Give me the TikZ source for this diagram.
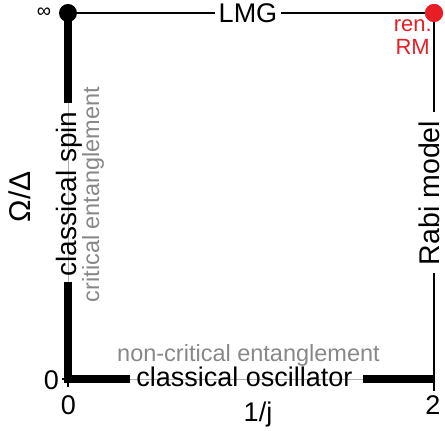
\documentclass[tikz,border=0pt]{standalone}
\usepackage{fontspec}
\setmainfont{Liberation Sans}
\definecolor{rmred}{RGB}{232,30,38}
\definecolor{faint}{RGB}{136,136,136}
\definecolor{guide}{RGB}{175,175,175}
\tikzset{
  heavy/.style={line width=8pt, line cap=butt, line join=miter},
  slim/.style={line width=1.6pt},
  guideline/.style={line width=0.8pt, draw=guide},
  tickmark/.style={line width=1.2pt},
  lbl/.style={inner sep=0pt, font=\fontsize{27}{30}\selectfont},
  note/.style={inner sep=0pt, text=faint, font=\fontsize{23.5}{26}\selectfont},
  dot/.style={circle, inner sep=0pt, minimum size=18pt},
}
\begin{document}
\begin{tikzpicture}[x=1pt,y=1pt]
\useasboundingbox (0,0) rectangle (445,431);
% frame corners
\coordinate (bl) at (68,52);
\coordinate (br) at (434,52);
% break points of the frame lines around the labels
\coordinate (lmgL) at (215,418);
\coordinate (lmgR) at (281,418);
\coordinate (rabiT) at (434,319);
\coordinate (rabiB) at (434,158);
\coordinate (spinT) at (68,328);
\coordinate (spinB) at (68,149);
\coordinate (oscL) at (130,52);
\coordinate (oscR) at (363,52);
\coordinate (tickL) at (62,52);
\coordinate (tickB) at (68,44);
\coordinate (tickBR) at (434,40);

% thin guide under the heavy edges
\draw[guideline] (68,418) -- (bl) -- (br);

% labels
\node[lbl, anchor=base] (lmg) at (248,408.5) {LMG};
\node[lbl, anchor=base, rotate=90, font=\fontsize{28}{30}\selectfont] (spin) at (76,237) {classical spin};
\node[lbl, anchor=base, rotate=90, font=\fontsize{28.5}{31}\selectfont] (rabi) at (439,238) {Rabi model};
\node[lbl, anchor=base] (osc) at (244.5,44) {classical oscillator};
\node[note, anchor=base, rotate=90] (crit) at (99,236.5) {critical entanglement};
\node[note, anchor=base] (noncrit) at (248.5,69) {non-critical entanglement};

% corner points
\node[dot, fill=black] (tl) at (68,418) {};
\node[dot, fill=rmred] (tr) at (434,418) {};

% edges
\draw[heavy] (tl.center) -- (spinT);
\draw[heavy] (spinB) -- (bl) -- (oscL);
\draw[heavy] (oscR) -- (br);
\draw[slim] (tl.east) -- (lmgL);
\draw[slim] (lmgR) -- (tr.center);
\draw[slim] (tr.center) -- (rabiT);
\draw[slim] (rabiB) -- (tickBR);
\draw[tickmark] (bl) -- (tickL);
\draw[tickmark] (bl) -- (tickB);
\node[dot, fill=rmred] at (tr) {};

% red corner label
\node[inner sep=0pt, text=rmred, anchor=base east, font=\fontsize{22}{24}\selectfont] (ren) at (432,399) {ren.};
\node[inner sep=0pt, text=rmred, anchor=base east, font=\fontsize{22}{24}\selectfont] (rm) at (430,376) {RM};

% axis values and titles
\node[inner sep=0pt, font=\fontsize{20}{22}\selectfont] (inf) at (44,418) {∞};
\node[lbl, anchor=base east] (zeroy) at (59,41) {0};
\node[lbl, anchor=base] (zerox) at (68.5,16) {0};
\node[lbl, anchor=base] (two) at (433,16) {2};
\node[lbl, anchor=base] (invj) at (258,9) {1/j};
\node[lbl, rotate=90, font=\fontsize{30}{32}\selectfont] (omd) at (20,234) {Ω/Δ};
\end{tikzpicture}
\end{document}
